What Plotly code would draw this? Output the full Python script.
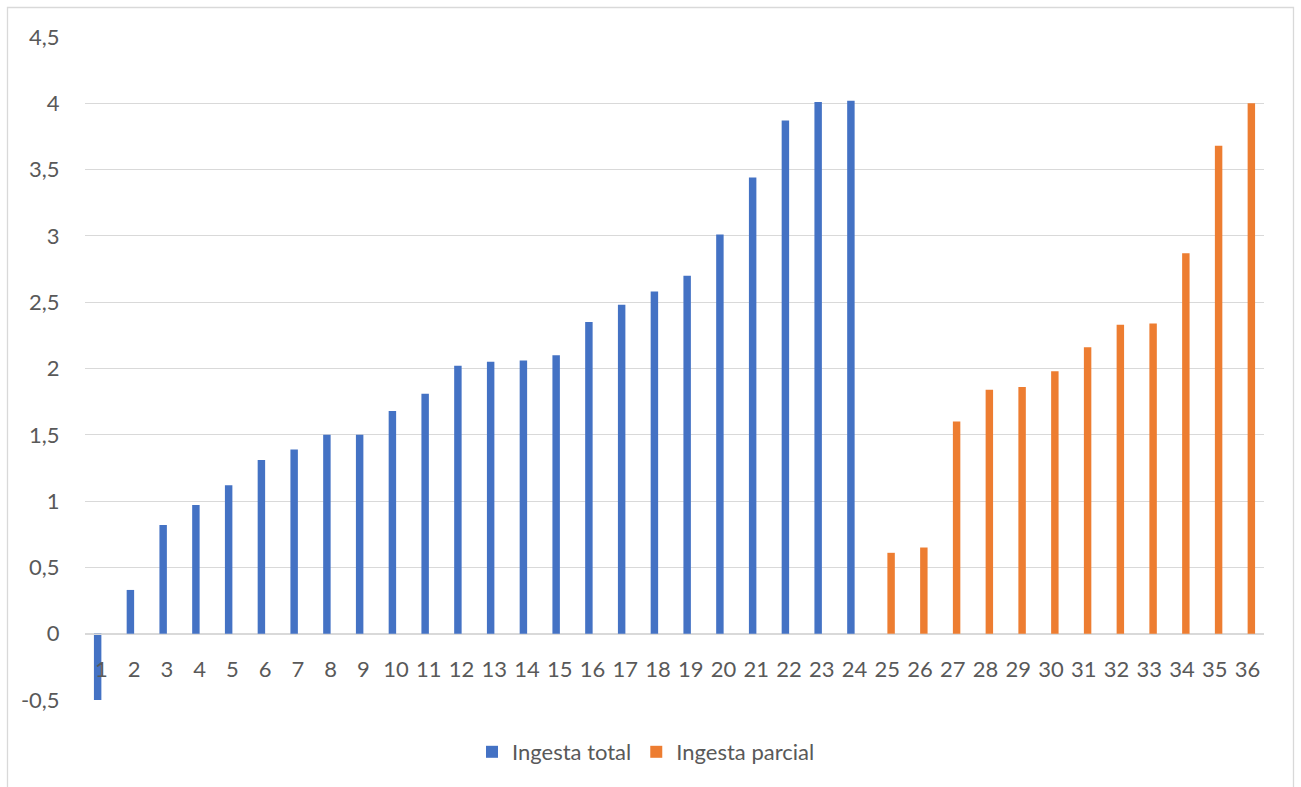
import plotly.graph_objects as go

# Categories 1..36
categories = [str(i) for i in range(1, 37)]

# Ingesta total: categories 1-24
ingesta_total = [-0.51, 0.33, 0.82, 0.97, 1.12, 1.31, 1.39, 1.50, 1.50, 1.68,
                 1.81, 2.02, 2.05, 2.06, 2.10, 2.35, 2.48, 2.58, 2.70, 3.01,
                 3.44, 3.87, 4.01, 4.02] + [None] * 12

# Ingesta parcial: categories 25-36
ingesta_parcial = [None] * 24 + [0.61, 0.65, 1.60, 1.84, 1.86, 1.98,
                                 2.16, 2.33, 2.34, 2.87, 3.68, 4.00]

y_ticks = [-0.5, 0, 0.5, 1, 1.5, 2, 2.5, 3, 3.5, 4, 4.5]
y_tick_text = ["-0,5", "0", "0,5", "1", "1,5", "2", "2,5", "3", "3,5", "4", "4,5"]

BLUE = "#4472C4"
ORANGE = "#ED7D31"
TEXT = "#595959"
GRID = "#D9D9D9"
FONT = "Lato"
FS = 22

fig = go.Figure()
fig.add_trace(go.Bar(x=categories, y=ingesta_total, name="Ingesta total",
                     marker=dict(color=BLUE, line=dict(width=0))))
fig.add_trace(go.Bar(x=categories, y=ingesta_parcial, name="Ingesta parcial",
                     marker=dict(color=ORANGE, line=dict(width=0))))

W, H = 1301, 787
ml, mr, mt, mb = 85, 37, 37, 87
pw, ph = W - ml - mr, H - mt - mb


def px_x(p):
    return (p - ml) / pw


def px_y(p):
    return (H - mb - p) / ph


fig.update_layout(
    width=W, height=H,
    margin=dict(l=ml, r=mr, t=mt, b=mb, pad=0),
    paper_bgcolor="white", plot_bgcolor="white",
    barmode="group", bargap=0.545, bargroupgap=0,
    font=dict(family=FONT, size=FS, color=TEXT),
    showlegend=True,
    legend=dict(orientation="h", x=px_x(472), xanchor="left",
                y=px_y(752), yanchor="middle",
                font=dict(family=FONT, size=FS, color=TEXT),
                itemwidth=30, traceorder="normal"),
    xaxis=dict(type="category", range=[-0.5, 35.5],
               anchor="free", position=0.1,
               showgrid=False, showline=True, linecolor=GRID, linewidth=1.3,
               ticks="outside", ticklen=16, tickcolor="rgba(0,0,0,0)",
               tickfont=dict(family=FONT, size=FS, color=TEXT),
               tickangle=0),
    yaxis=dict(range=[-0.5, 4.5], tickvals=y_ticks, ticktext=y_tick_text,
               showgrid=True, gridcolor=GRID, gridwidth=1.3,
               zeroline=False, showline=False,
               ticks="outside", ticklen=20, tickcolor="rgba(0,0,0,0)",
               tickfont=dict(family=FONT, size=FS, color=TEXT)),
    shapes=[dict(type="rect", xref="paper", yref="paper",
                 x0=px_x(7.5), x1=px_x(1293.5), y0=px_y(820), y1=px_y(7.5),
                 line=dict(color=GRID, width=1.3), fillcolor="rgba(0,0,0,0)",
                 layer="below")],
)

fig.write_html("out.html")
